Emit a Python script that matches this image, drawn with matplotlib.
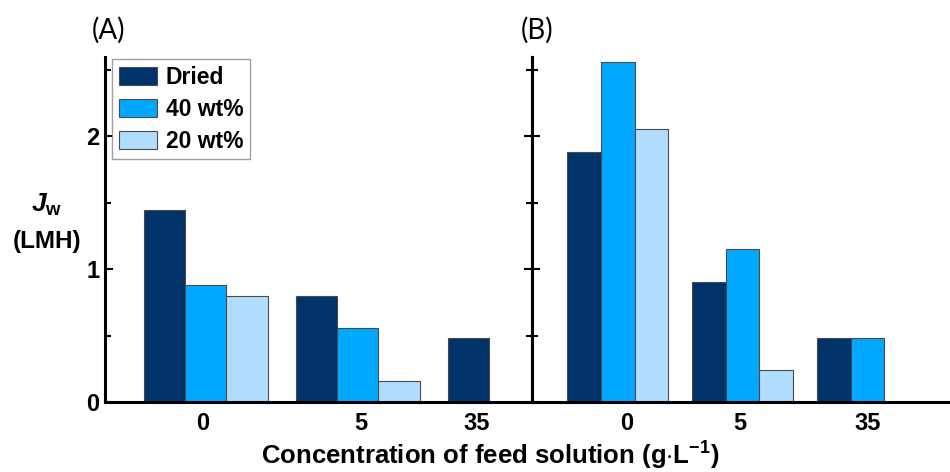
import matplotlib
matplotlib.use("Agg")
import matplotlib.pyplot as plt
import numpy as np
from matplotlib.patches import Patch

plt.rcParams['font.family'] = ['Liberation Sans', 'DejaVu Sans']
plt.rcParams['mathtext.fontset'] = 'custom'
plt.rcParams['mathtext.rm'] = 'Liberation Sans:bold'
plt.rcParams['mathtext.bf'] = 'Liberation Sans:bold'
plt.rcParams['mathtext.it'] = 'Liberation Sans:bold:italic'

series = ["Dried", "40 wt%", "20 wt%"]
colors = ["#01336B", "#00A9FF", "#B0DCFF"]
conc_labels = ["0", "5", "35"]

# Panel A values (Jw, LMH); None = no bar
A_dried = [1.44, 0.80, 0.48]
A_40 = [0.88, 0.56, None]
A_20 = [0.80, 0.155, None]

# Panel B values
B_dried = [1.88, 0.90, 0.48]
B_40 = [2.56, 1.15, 0.48]
B_20 = [2.05, 0.24, None]

A_tickpos = [-0.02, 1.02, 1.78]
B_tickpos = [0.07, 0.98, 2.0]

fig = plt.figure(figsize=(9.5, 4.72), dpi=100)
axA = fig.add_axes([105/950, 70/472, 427/950, 345/472])
axB = fig.add_axes([532/950, 70/472, 418/950, 345/472])

w = 0.27
ymax = 2.594
TICK_FS = 17

def draw(ax, data):
    x = np.arange(3)
    for i, (vals, c) in enumerate(zip(data, colors)):
        for xi, v in zip(x, vals):
            if v is None:
                continue
            ax.bar(xi + (i - 1) * w, v, width=w, color=c, edgecolor="#4a4a4a",
                   linewidth=0.8, zorder=2)
    ax.set_ylim(0, ymax)

draw(axA, [A_dried, A_40, A_20])
draw(axB, [B_dried, B_40, B_20])

axA.set_xlim(-0.664, 2.145)
axB.set_xlim(-0.686, 2.66)

for ax in (axA, axB):
    for s in ax.spines.values():
        s.set_linewidth(2.2)
    ax.spines['top'].set_visible(False)
    ax.tick_params(axis='x', length=0, labelsize=TICK_FS, pad=7)
    ax.set_yticks([0, 1, 2])
    ax.set_yticks([0.5, 1.5, 2.5], minor=True)
    ax.tick_params(axis='y', which='both', direction='in', width=1.5)
    ax.tick_params(axis='y', which='major', length=6)
    ax.tick_params(axis='y', which='minor', length=4)

axA.set_xticks(A_tickpos)
axA.set_xticklabels(conc_labels, fontweight='bold', fontsize=TICK_FS)
axB.set_xticks(B_tickpos)
axB.set_xticklabels(conc_labels, fontweight='bold', fontsize=TICK_FS)

axA.spines['right'].set_visible(True)
axA.tick_params(axis='y', which='both', right=True, left=True, labelsize=TICK_FS, pad=4)
for lab in axA.get_yticklabels():
    lab.set_fontweight('bold')
axB.spines['right'].set_visible(False)
axB.tick_params(axis='y', which='both', labelleft=False)

fig.text(92/950, 1 - 30/472, "(A)", fontsize=20, family=['Lato', 'DejaVu Sans'],
         ha='left', va='center')
fig.text(521/950, 1 - 30/472, "(B)", fontsize=20, family=['Lato', 'DejaVu Sans'],
         ha='left', va='center')

fig.text(47/950, 1 - 205/472, r"$\mathit{J}_{\mathrm{w}}$", fontsize=19, ha='center', va='center')
fig.text(47/950, 1 - 242/472, "(LMH)", fontsize=17.5, fontweight='bold', ha='center', va='center')

fig.text(490/950, 1 - 456/472, r"Concentration of feed solution (g$\cdot$L$^{\mathrm{-1}}$)",
         fontsize=18.5, fontweight='bold', ha='center', va='center')

handles = [Patch(facecolor=c, edgecolor="#4a4a4a", linewidth=0.8) for c in colors]
leg = axA.legend(handles, series, loc='upper left', bbox_to_anchor=(0.012, 1.0),
                 prop={'weight': 'bold', 'size': 16.5}, frameon=True, fancybox=False,
                 handlelength=1.65, handleheight=0.85, borderpad=0.28, labelspacing=0.4,
                 handletextpad=0.4, borderaxespad=0.1)
leg.get_frame().set_edgecolor("#888888")
leg.get_frame().set_linewidth(1.0)

fig.savefig("out.png", dpi=100)
